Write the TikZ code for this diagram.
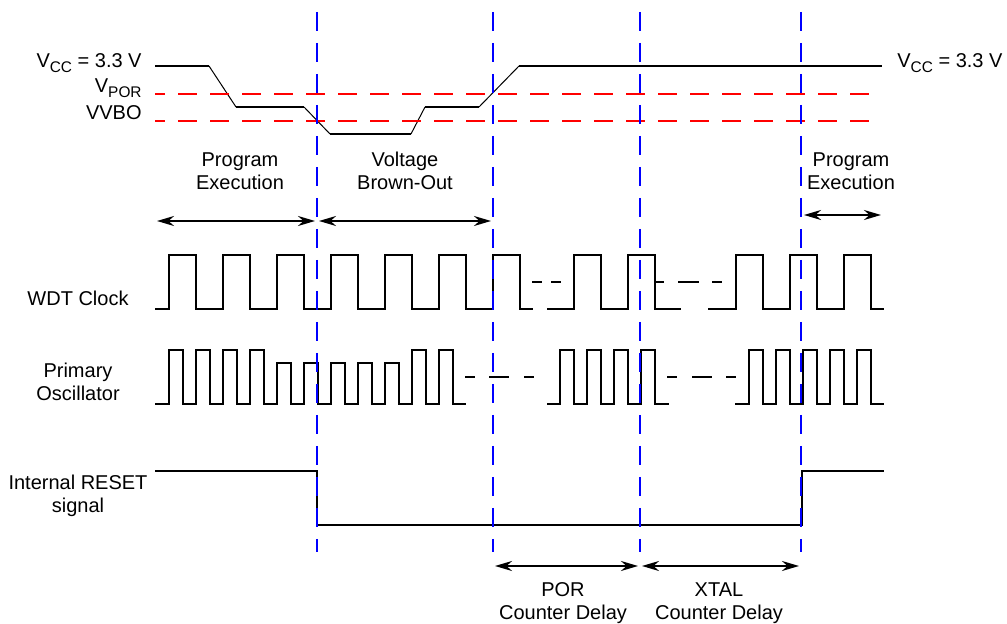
\documentclass[tikz,border=0pt]{standalone}
\usepackage{fontspec}
\setmainfont{Liberation Sans}
\usetikzlibrary{arrows.meta}
\newcommand{\vsub}[1]{\raisebox{-2.2pt}{\fontsize{7.7}{8}\selectfont #1}}

\begin{document}
\begin{tikzpicture}[x=0.5pt,y=-0.5pt,
    wave/.style={line width=1pt},
    slope/.style={line width=0.5pt},
    level/.style={red,line width=1.1pt,dash pattern=on 9.25pt off 6.75pt,dash phase=4.35pt},
    marker/.style={blue,line width=1pt,dash pattern=on 9.5pt off 6pt},
    span/.style={{Stealth[length=8.5pt,width=5pt]}-{Stealth[length=8.5pt,width=5pt]},
                 line width=1pt,shorten <=1pt,shorten >=1pt},
    lbl/.style={align=center,inner sep=0pt,font=\fontsize{10}{11.25}\selectfont}
  ]
    \useasboundingbox (0,0) rectangle (1007,624);

    % supply voltage
    \coordinate (v0) at (155,66);  \coordinate (v1) at (209,66);
    \coordinate (v2) at (236,107); \coordinate (v3) at (304,107);
    \coordinate (v4) at (330,134); \coordinate (v5) at (411,134);
    \coordinate (v6) at (425,107); \coordinate (v7) at (479,107);
    \coordinate (v8) at (519,66);  \coordinate (v9) at (882,66);
    \draw[wave] (v0) -- (v1) (v2) -- (v3) (v4) -- (v5) (v6) -- (v7) (v8) -- (v9);
    \draw[slope] (v1) -- (v2) (v3) -- (v4) (v5) -- (v6) (v7) -- (v8);
    \draw[level] (155,94) -- (882,94);
    \draw[level] (155,121) -- (882,121);

    \node[lbl,anchor=base east] (vcc) at (142,68) {V\vsub{CC} = 3.3 V};
    \node[lbl,anchor=base east] (vpor) at (142,93) {V\vsub{POR}};
    \node[lbl,anchor=base east] (vbo) at (142,120) {VVBO};
    \node[lbl,anchor=base west] (vccr) at (897,68) {V\vsub{CC} = 3.3 V};

    \node[lbl] (run) at (240,171) {Program\\Execution};
    \node[lbl] (bo) at (405,171) {Voltage\\Brown-Out};
    \node[lbl] (runr) at (851,171) {Program\\Execution};

    % WDT clock
    \node[lbl,anchor=base] (wdt) at (78,306) {WDT Clock};
    \draw[wave] (155,309) foreach \x in {169,223,...,493}
      {-- (\x,309) -- (\x,255) -- (\x+27,255) -- (\x+27,309)} -- (533,309);
    \draw[wave] (547,309) foreach \x in {574,628}
      {-- (\x,309) -- (\x,255) -- (\x+27,255) -- (\x+27,309)} -- (681,309);
    \draw[wave] (708,309) foreach \x in {736,790,844}
      {-- (\x,309) -- (\x,255) -- (\x+27,255) -- (\x+27,309)} -- (884,309);
    \draw[wave] (532,282) -- (542,282) (551,282) -- (561,282)
                (655,282) -- (664,282) (678,282) -- (699,282) (712,282) -- (722,282);

    % primary oscillator
    \node[lbl] (osc) at (78,382) {Primary\\Oscillator};
    \draw[wave] (155,404) foreach \x/\h in {169/350,196/350,223/350,250/350,277/363,
        304/363,331/363,358/363,385/363,412/350,439/350}
      {-- (\x,404) -- (\x,\h) -- (\x+13.5,\h) -- (\x+13.5,404)} -- (466,404);
    \draw[wave] (547,404) foreach \x in {560,587,614,641}
      {-- (\x,404) -- (\x,350) -- (\x+13.5,350) -- (\x+13.5,404)} -- (669,404);
    \draw[wave] (735,404) foreach \x in {749,776,803,830,857}
      {-- (\x,404) -- (\x,350) -- (\x+13.5,350) -- (\x+13.5,404)} -- (884,404);
    \draw[wave] (465,377) -- (475,377) (489,377) -- (509,377) (524,377) -- (534,377)
                (667,377) -- (677,377) (692,377) -- (712,377) (726,377) -- (736,377);

    % reset
    \node[lbl] (rst) at (78,496) {Internal RESET\\signal};
    \draw[wave] (155,471) -- (317,471) -- (317,525) -- (802,525) -- (802,471) -- (884,471);

    % phase markers
    \foreach \x [count=\i] in {317,493,640,801} {
      \coordinate (t\i) at (\x,12);
      \coordinate (b\i) at (\x,552);
      \draw[marker] (t\i) -- (b\i);
    }

    \coordinate (p0) at (155,221); \coordinate (p1) at (317,221); \coordinate (p2) at (493,221);
    \coordinate (q1) at (802,215); \coordinate (q2) at (883,215);
    \coordinate (d1) at (493,566); \coordinate (d2) at (640,566); \coordinate (d3) at (801,566);
    \draw[span] (p0) -- (p1);
    \draw[span] (p1) -- (p2);
    \draw[span] (q1) -- (q2);
    \draw[span] (d1) -- (d2);
    \draw[span] (d2) -- (d3);

    \node[lbl] (por) at (563,603) {POR\\Counter Delay};
    \node[lbl] (xtal) at (719,603) {XTAL\\Counter Delay};
  \end{tikzpicture}
\end{document}
